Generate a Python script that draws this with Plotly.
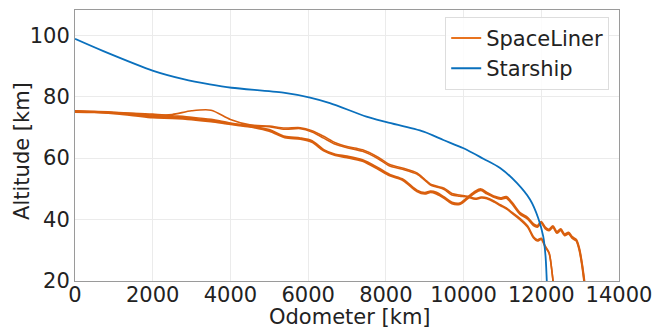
import plotly.graph_objects as go

# Starship trajectory
star_x = [0, 730, 2015, 2790, 3470, 4030, 5360, 6050, 6560, 7500, 8020, 8970, 9480,
          10000, 10510, 10940, 11370, 11710, 11920, 12050, 12110, 12140, 12160]
star_y = [98.8, 94.8, 88.4, 85.7, 84.0, 82.9, 81.3, 79.7, 77.9, 73.5, 71.7, 68.6, 65.9,
          63.2, 59.8, 56.8, 51.9, 46.5, 40.5, 34.5, 28.0, 20.5, 15.0]

# SpaceLiner trajectories, group ending near 13100 km
sl_a_x = [0, 500, 1000, 1500, 2000, 2500, 3000, 3500, 4000, 4500, 5000, 5400, 5800, 6100,
          6400, 6700, 7000, 7400, 7800, 8100, 8450, 8800, 9000, 9150, 9300, 9500, 9700,
          9900, 10100, 10300, 10450, 10600, 10800, 10950, 11100, 11250, 11450, 11650,
          11800, 11900, 12000, 12100, 12200, 12300, 12400, 12500, 12600, 12700, 12800,
          12900, 12980, 13050, 13130]
sl_a1_y = [75.2, 75.0, 74.7, 74.2, 73.6, 73.4, 72.9, 72.2, 71.2, 70.4, 69.2, 67.0, 66.5, 65.6,
           62.7, 61.2, 60.6, 59.4, 56.8, 54.6, 53.0, 49.5, 48.7, 49.2, 48.8, 47.3, 45.6,
           45.3, 47.2, 49.2, 49.9, 48.8, 47.5, 47.0, 47.4, 45.5, 42.2, 40.6,
           38.5, 38.0, 39.3, 37.5, 36.8, 37.9, 36.0, 36.9, 35.2, 35.8, 34.3,
           33.5, 30.5, 25.5, 18.0]
sl_a2_y = [75.0, 74.9, 74.5, 73.9, 73.2, 73.0, 72.6, 71.9, 71.0, 70.2, 68.8, 66.7, 66.2, 65.2,
           62.4, 60.9, 60.2, 59.0, 56.4, 54.3, 52.7, 49.2, 48.4, 48.9, 48.4, 47.0, 45.2,
           45.0, 46.8, 48.8, 49.5, 48.4, 47.2, 46.7, 47.0, 45.1, 41.8, 40.2,
           38.1, 37.6, 38.9, 37.1, 36.4, 37.5, 35.6, 36.5, 34.8, 35.4, 33.9,
           33.1, 30.0, 25.0, 17.0]

# SpaceLiner trajectories, group ending near 12300 km
sl_b_x = [0, 500, 1000, 1500, 2000, 2500, 3000, 3500, 4000, 4500, 5000, 5400, 5800, 6100,
          6400, 6700, 7000, 7400, 7800, 8100, 8450, 8800, 9000, 9150, 9300, 9500, 9700,
          9900, 10100, 10300, 10450, 10600, 10800, 10950, 11100, 11250, 11450, 11650,
          11800, 11900, 12000, 12100, 12200, 12280, 12340]
sl_b1_y = [75.4, 75.1, 74.8, 74.6, 74.3, 73.8, 73.3, 72.6, 71.4, 70.5, 70.2, 69.4, 69.6, 68.5,
           66.5, 64.5, 63.4, 62.2, 59.8, 57.4, 56.3, 54.8, 52.8, 51.2, 50.6, 49.8, 48.0,
           47.6, 47.3, 46.6, 47.0, 46.8, 45.6, 44.5, 43.5, 42.0, 40.0, 37.5,
           34.0, 33.0, 33.5, 31.0, 29.0, 22.5, 15.0]
sl_b2_y = [75.3, 75.2, 74.9, 74.5, 74.0, 74.2, 75.4, 75.6, 72.6, 70.8, 70.4, 69.8, 69.9, 68.9,
           67.1, 65.0, 63.8, 62.7, 60.3, 57.9, 56.7, 55.2, 53.1, 51.5, 50.9, 50.2, 48.5,
           48.0, 47.6, 46.9, 47.3, 47.1, 45.9, 44.8, 43.8, 42.3, 40.4, 37.9,
           34.4, 33.4, 33.9, 31.4, 29.3, 22.5, 15.0]

x_ticks = [0, 2000, 4000, 6000, 8000, 10000, 12000, 14000]
y_ticks = [20, 40, 60, 80, 100]

ORANGE = "#d95f0e"
BLUE = "#0a70bd"

fig = go.Figure()
for xs, ys, w in [(sl_a_x, sl_a1_y, 2.0), (sl_a_x, sl_a2_y, 2.0),
                  (sl_b_x, sl_b1_y, 1.6), (sl_b_x, sl_b2_y, 1.6)]:
    fig.add_trace(go.Scatter(x=xs, y=ys, mode="lines", line=dict(color=ORANGE, width=w, shape="spline", smoothing=0.8),
                             showlegend=False, hoverinfo="skip"))
fig.add_trace(go.Scatter(x=star_x, y=star_y, mode="lines", line=dict(color=BLUE, width=1.8, shape="spline", smoothing=0.8),
                         showlegend=False, hoverinfo="skip"))
# legend entries
fig.add_trace(go.Scatter(x=[None], y=[None], mode="lines", name="SpaceLiner", line=dict(color="#e8731f", width=2)))
fig.add_trace(go.Scatter(x=[None], y=[None], mode="lines", name="Starship", line=dict(color=BLUE, width=2)))

font = dict(family="DejaVu Sans", size=21, color="#222222")
fig.update_layout(
    width=654, height=329,
    margin=dict(l=75, r=35, t=10, b=48),
    plot_bgcolor="white", paper_bgcolor="white",
    font=font,
    legend=dict(x=0.982, y=0.975, xanchor="right", yanchor="top", bgcolor="rgba(255,255,255,0.85)",
                bordercolor="#dddddd", borderwidth=1, font=font, tracegroupgap=0),
    annotations=[
        dict(text="Odometer [km]", xref="paper", yref="paper", x=0.505, y=-0.134,
             xanchor="center", yanchor="middle", showarrow=False, font=font),
        dict(text="Altitude [km]", xref="paper", yref="paper", x=-0.0974, y=0.48,
             xanchor="center", yanchor="middle", showarrow=False, textangle=-90, font=font),
    ],
)
fig.update_xaxes(range=[0, 14000], tickvals=x_ticks, ticktext=[str(v) for v in x_ticks],
                 showgrid=True, gridcolor="#ebebeb", gridwidth=1, zeroline=False,
                 showline=True, linecolor="#9a9a9a", linewidth=1, mirror=True,
                 ticks="", tickfont=font, automargin=False, ticklabelstandoff=-5)
fig.update_yaxes(range=[20, 108.2], tickvals=y_ticks, ticktext=[str(v) for v in y_ticks],
                 showgrid=True, gridcolor="#ebebeb", gridwidth=1, zeroline=False,
                 showline=True, linecolor="#9a9a9a", linewidth=1, mirror=True,
                 ticks="", tickfont=font, automargin=False)

fig.write_html("out.html")
